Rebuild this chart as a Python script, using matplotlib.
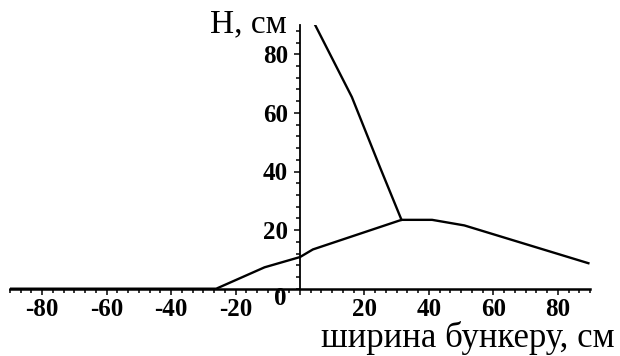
import matplotlib
matplotlib.use("Agg")
import matplotlib.pyplot as plt
from matplotlib.ticker import AutoMinorLocator, FixedLocator
from matplotlib.transforms import ScaledTranslation

# lower curve (bunker profile)
lower_x = [-90, -26, -11, 0, 4, 31.5, 41, 51, 89.5]
lower_y = [0, 0, 7.3, 10.8, 13.4, 23.5, 23.5, 21.6, 8.7]

# upper curve
upper_x = [4.7, 16.1, 24.8, 31.5]
upper_y = [90, 65.4, 41.5, 23.5]

xticks = [-80, -60, -40, -20, 0, 20, 40, 60, 80]
yticks = [20, 40, 60, 80]
xlabel = "ширина бункеру, см"
ylabel = "H, см"

plt.rcParams['axes.unicode_minus'] = False

fig = plt.figure(figsize=(6.2, 3.56), dpi=100)
ax = fig.add_axes([10/620, 1 - 288.7/356, 580/620, 263.7/356])

ax.plot(lower_x, lower_y, color="black", lw=1.7, solid_joinstyle="round")
ax.plot(upper_x, upper_y, color="black", lw=1.7, solid_joinstyle="round")

ax.set_xlim(-90, 90)
ax.set_ylim(0, 90)

ax.spines['left'].set_position(('data', 0))
ax.spines['bottom'].set_position(('data', 0))
ax.spines['top'].set_visible(False)
ax.spines['right'].set_visible(False)
ax.spines['left'].set_linewidth(1.3)
ax.spines['bottom'].set_linewidth(1.8)

ax.xaxis.set_major_locator(FixedLocator(xticks))
ax.yaxis.set_major_locator(FixedLocator(yticks))
ax.xaxis.set_minor_locator(AutoMinorLocator(6))
ax.yaxis.set_minor_locator(AutoMinorLocator(5))
ax.tick_params(which='major', direction='out', length=4.5, width=1.1)
ax.tick_params(which='minor', direction='out', length=3, width=1.1)
ax.tick_params(axis='x', pad=2)
ax.tick_params(axis='y', pad=4)

for lab in ax.get_xticklabels() + ax.get_yticklabels():
    lab.set_fontfamily("Liberation Serif")
    lab.set_fontweight("bold")
    lab.set_fontsize(18)

# Maple puts the zero label off to the left of the vertical axis
for t, lab in zip(xticks, ax.get_xticklabels()):
    if t == 0:
        lab.set_transform(lab.get_transform() + ScaledTranslation(-14/72, 8/72, fig.dpi_scale_trans))

ax.set_xlabel(xlabel, fontsize=25, family="Liberation Serif", ha='right', va='baseline')
ax.xaxis.set_label_coords(1.043, -0.221)
ax.set_ylabel(ylabel, fontsize=24, family="Liberation Serif", rotation=0, ha='right', va='baseline')
ax.yaxis.set_label_coords(0.478, 0.973)

fig.savefig("out.png", dpi=100)
